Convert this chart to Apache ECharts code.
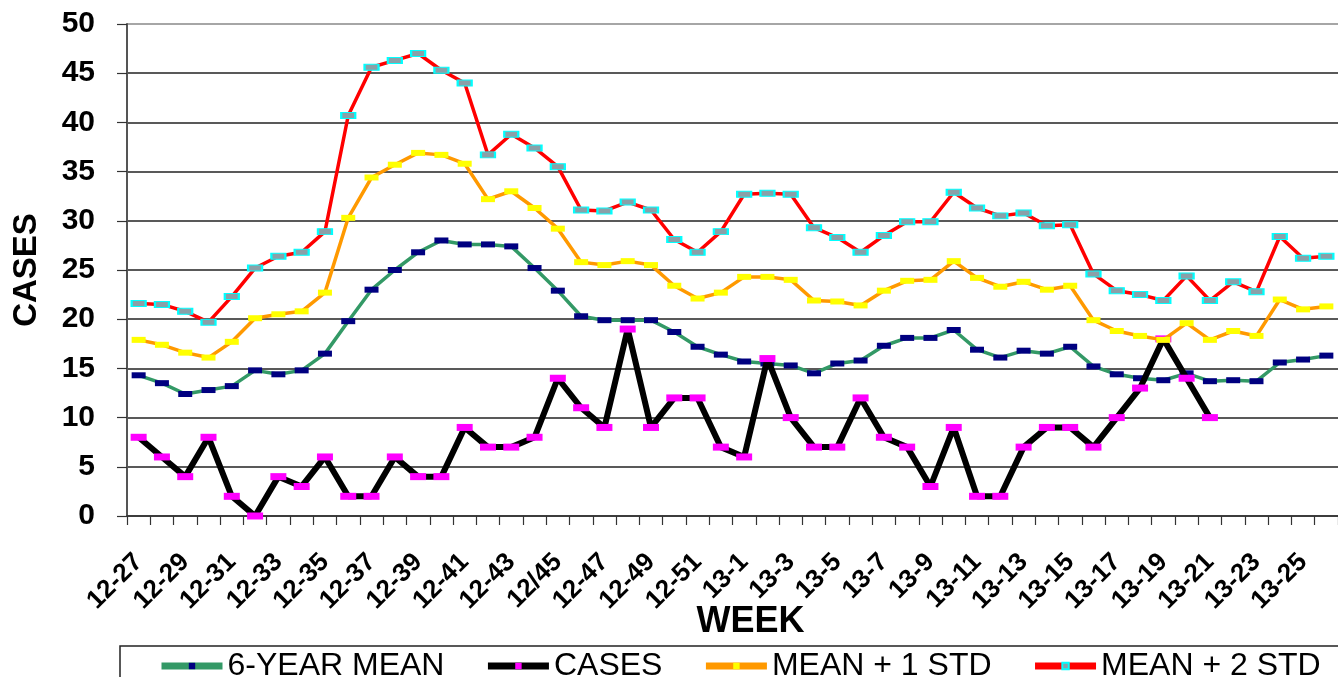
<!DOCTYPE html>
<html>
<head>
<meta charset="utf-8">
<script src="https://cdn.jsdelivr.net/npm/echarts@6/dist/echarts.min.js"></script>
<style>
html,body{margin:0;padding:0;background:#fff;}
#chart{width:1338px;height:677px;}
</style>
</head>
<body>
<div id="chart"></div>
<script>
const weeks = ['12-27','12-28','12-29','12-30','12-31','12-32','12-33','12-34','12-35','12-36','12-37','12-38','12-39','12-40','12-41','12-42','12-43','12-44','12/45','12-46','12-47','12-48','12-49','12-50','12-51','12-52',
  '13-1','13-2','13-3','13-4','13-5','13-6','13-7','13-8','13-9','13-10','13-11','13-12','13-13','13-14','13-15','13-16','13-17','13-18','13-19','13-20','13-21','13-22','13-23','13-24','13-25','13-26'];

const sixYearMean = [14.3,13.5,12.4,12.8,13.2,14.8,14.4,14.8,16.5,19.8,23.0,25.0,26.8,28.0,27.6,27.6,27.4,25.2,22.9,20.3,19.9,19.9,19.9,18.7,17.2,16.4,
  15.7,15.5,15.3,14.5,15.5,15.8,17.3,18.1,18.1,18.9,16.9,16.1,16.8,16.5,17.2,15.2,14.4,14.0,13.8,14.5,13.7,13.8,13.7,15.6,15.9,16.3];

const cases = [8,6,4,8,2,0,4,3,6,2,2,6,4,4,9,7,7,8,14,11,9,19,9,12,12,7,
  6,16,10,7,7,12,8,7,3,9,2,2,7,9,9,7,10,13,18,14,10];

const meanPlus1Std = [17.9,17.4,16.6,16.1,17.7,20.1,20.5,20.8,22.7,30.3,34.4,35.7,36.9,36.7,35.8,32.2,33.0,31.3,29.2,25.8,25.5,25.9,25.5,23.4,22.1,22.7,
  24.3,24.3,24.0,21.9,21.8,21.4,22.9,23.9,24.0,25.9,24.2,23.3,23.8,23.0,23.4,19.9,18.8,18.3,17.9,19.6,17.9,18.8,18.3,22.0,21.0,21.3];

const meanPlus2Std = [21.6,21.5,20.8,19.7,22.3,25.2,26.4,26.8,28.9,40.7,45.6,46.3,47.0,45.3,44.0,36.7,38.8,37.4,35.5,31.1,31.0,31.9,31.1,28.1,26.8,28.9,
  32.7,32.8,32.7,29.3,28.3,26.8,28.5,29.9,29.9,32.9,31.3,30.5,30.8,29.5,29.6,24.6,22.9,22.5,21.9,24.4,21.9,23.8,22.8,28.4,26.2,26.4];

const yTicks = {min: 0, max: 50, interval: 5};

const FONT = "'Liberation Sans', Arial, sans-serif";
const chart = echarts.init(document.getElementById('chart'), null, {renderer: 'canvas'});

const gridLineColors = ['#222','#222','#222','#222','#222','#222','#222','#222','#222','#222','#888'];

chart.setOption({
  backgroundColor: '#ffffff',
  animation: false,
  textStyle: {fontFamily: FONT, color: '#000'},
  grid: {left: 127, right: -11, top: 24, bottom: 161, containLabel: false},
  legend: {
    left: 120, top: 646, width: 1300,
    padding: [4, 36, 6, 38],
    borderColor: '#222', borderWidth: 1.5,
    itemWidth: 61, itemHeight: 8, itemGap: 40,
    lineStyle: {width: 7},
    textStyle: {fontFamily: FONT, fontSize: 32, color: '#000'},
    data: ['6-YEAR MEAN', 'CASES', 'MEAN + 1 STD', 'MEAN + 2 STD']
  },
  xAxis: {
    type: 'category',
    data: weeks,
    boundaryGap: true,
    name: 'WEEK',
    nameLocation: 'middle',
    nameGap: 88,
    nameMoveOverlap: false,
    nameTextStyle: {fontFamily: FONT, fontSize: 36, fontWeight: 'bold', color: '#000', padding: [0, 0, 0, 36]},
    axisLine: {show: true, lineStyle: {color: '#333', width: 1.5}},
    axisTick: {show: true, interval: 0, length: 9, lineStyle: {color: '#333', width: 1.2}},
    axisLabel: {interval: 1, rotate: 45, margin: 42, fontFamily: FONT, fontSize: 26, fontWeight: 'bold', color: '#000'},
    splitLine: {show: false}
  },
  yAxis: {
    type: 'value',
    min: yTicks.min, max: yTicks.max, interval: yTicks.interval,
    name: 'CASES',
    nameLocation: 'middle',
    nameRotate: 90,
    nameGap: 84,
    nameMoveOverlap: false,
    nameTextStyle: {fontFamily: FONT, fontSize: 33, fontWeight: 'bold', color: '#000'},
    axisLine: {show: true, lineStyle: {color: '#555', width: 2}},
    axisTick: {show: true, length: 10, lineStyle: {color: '#333', width: 1.2}},
    axisLabel: {margin: 32, fontFamily: FONT, fontSize: 30, fontWeight: 'bold', color: '#000'},
    splitLine: {show: true, lineStyle: {color: gridLineColors, width: 1.5}}
  },
  series: [
    {
      name: '6-YEAR MEAN', type: 'line', data: sixYearMean,
      symbol: 'rect', symbolSize: [14, 6], showAllSymbol: true,
      lineStyle: {color: '#339966', width: 3.5},
      itemStyle: {color: '#000080'},
      z: 2
    },
    {
      name: 'CASES', type: 'line', data: cases,
      symbol: 'rect', symbolSize: [16, 7], showAllSymbol: true,
      lineStyle: {color: '#000000', width: 6},
      itemStyle: {color: '#FF00FF'},
      z: 3
    },
    {
      name: 'MEAN + 1 STD', type: 'line', data: meanPlus1Std,
      symbol: 'rect', symbolSize: [14, 6], showAllSymbol: true,
      lineStyle: {color: '#FF9900', width: 3.5},
      itemStyle: {color: '#FFFF00'},
      z: 4
    },
    {
      name: 'MEAN + 2 STD', type: 'line', data: meanPlus2Std,
      symbol: 'rect', symbolSize: [14, 6], showAllSymbol: true,
      lineStyle: {color: '#FF0000', width: 3.5},
      itemStyle: {color: '#8aa0a8', borderColor: '#00FFFF', borderWidth: 1.5},
      z: 5
    }
  ]
});
</script>
</body>
</html>
